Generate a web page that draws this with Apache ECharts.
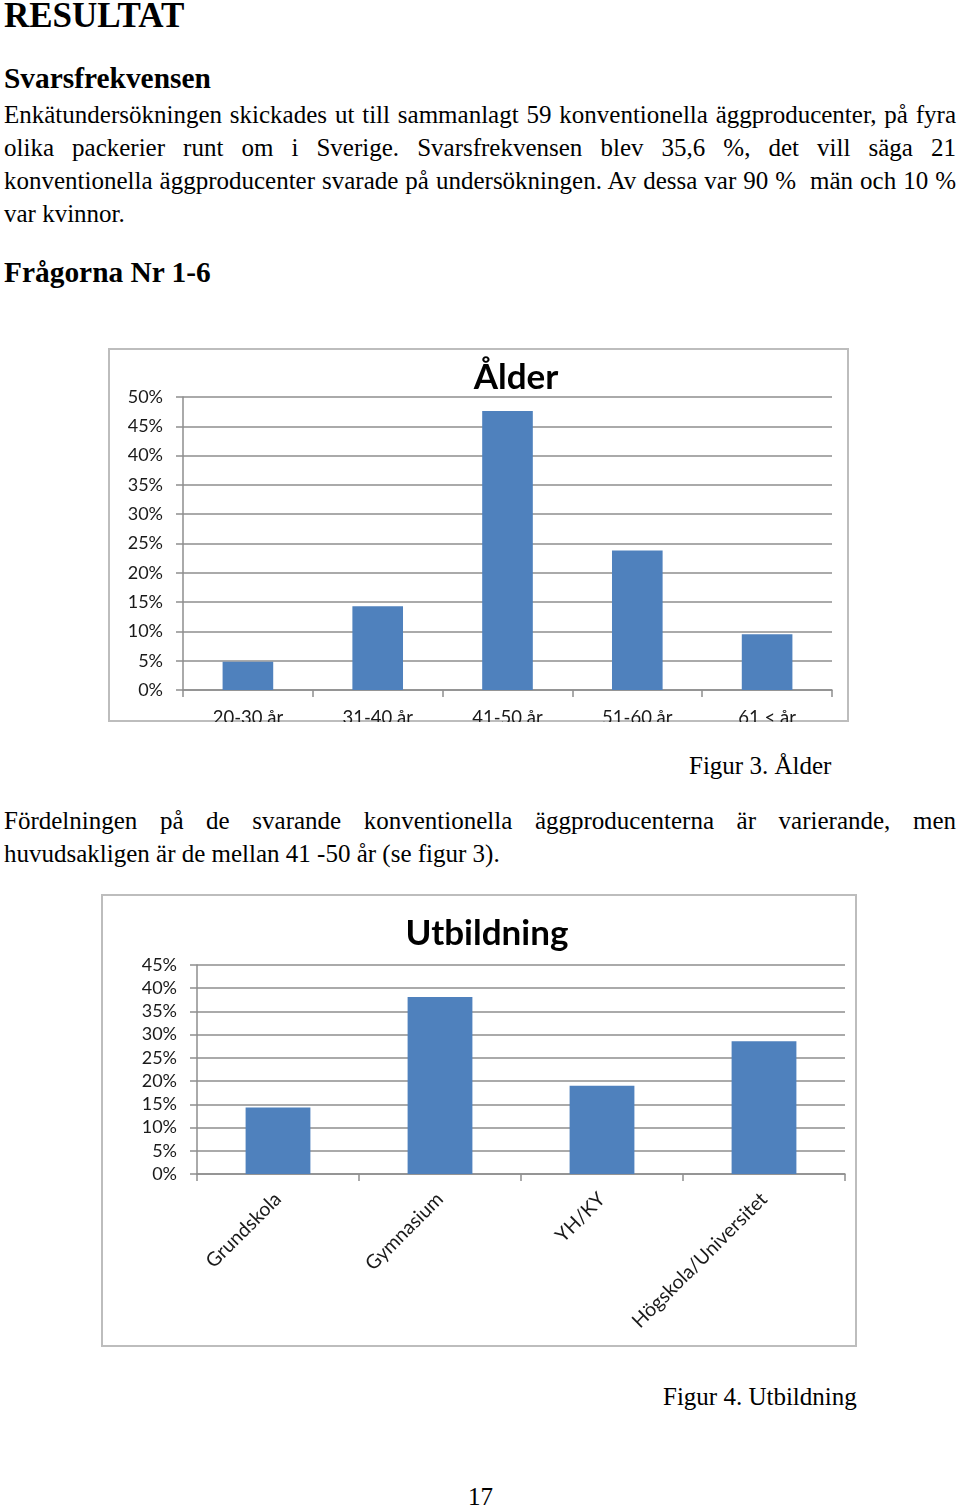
<!DOCTYPE html>
<html>
<head>
<meta charset="utf-8">
<script src="https://cdn.jsdelivr.net/npm/echarts@6/dist/echarts.min.js"></script>
<style>
  html, body { margin:0; padding:0; background:#fff; }
  body { width:960px; height:1509px; position:relative; overflow:hidden; font-family:"Liberation Serif","Times New Roman",serif; color:#000; }
  .t { position:absolute; white-space:nowrap; }
  .h1 { font-weight:bold; font-size:35px; line-height:38px; }
  .h2 { font-weight:bold; font-size:29.4px; line-height:34px; }
  .ln { position:absolute; left:4px; width:952px; font-size:25px; line-height:33px; height:33px; }
  .j { text-align:justify; text-align-last:justify; }
  .chart { position:absolute; }
</style>
</head>
<body>
<div class="t h1" style="left:4px; top:-3px;">RESULTAT</div>
<div class="t h2" style="left:4px; top:61px;">Svarsfrekvensen</div>
<div class="ln j" style="top:98px;">Enkätundersökningen skickades ut till sammanlagt 59 konventionella äggproducenter, på fyra</div>
<div class="ln j" style="top:131px;">olika packerier runt om i Sverige. Svarsfrekvensen blev 35,6 %, det vill säga 21</div>
<div class="ln j" style="top:164px;">konventionella äggproducenter svarade på undersökningen. Av dessa var 90 %&nbsp; män och 10 %</div>
<div class="ln" style="top:197px;">var kvinnor.</div>
<div class="t h2" style="left:4px; top:255px;">Frågorna Nr 1-6</div>

<div id="c1" class="chart" style="left:108px; top:348px; width:741px; height:374px;"></div>

<div class="t" style="left:689px; top:749px; font-size:25px; line-height:33px;">Figur 3. Ålder</div>
<div class="ln j" style="top:804px;">Fördelningen på de svarande konventionella äggproducenterna är varierande, men</div>
<div class="ln" style="top:837px;">huvudsakligen är de mellan 41 -50 år (se figur 3).</div>

<div id="c2" class="chart" style="left:101px; top:894px; width:756px; height:453px;"></div>

<div class="t" style="left:663px; top:1380px; font-size:25px; line-height:33px;">Figur 4. Utbildning</div>
<div class="t" style="left:468px; top:1480px; font-size:25px; line-height:33px;">17</div>

<script>
// ---- data ----
var ageCategories = ['20-30 år', '31-40 år', '41-50 år', '51-60 år', '61 < år'];
var ageValues = [4.8, 14.3, 47.6, 23.8, 9.5];
var eduCategories = ['Grundskola', 'Gymnasium', 'YH/KY', 'Högskola/Universitet'];
var eduValues = [14.3, 38.1, 19.0, 28.6];
var ageTitle = 'Ålder';
var eduTitle = 'Utbildning';

var FONT = 'Lato, "Open Sans", sans-serif';
var BAR = '#4f81bd';
var GRID = '#8e8e8e';
var LABEL = '#1a1a1a';

function makeOption(o) {
  return {
    animation: false,
    title: {
      text: o.title, left: o.titleX, top: o.titleTop, textAlign: 'center',
      textStyle: { fontFamily: FONT, fontWeight: 'bold', fontSize: o.titleSize, color: '#000' }
    },
    graphic: [{
      type: 'rect', silent: true,
      shape: { x: 1, y: 1, width: o.w - 2, height: o.h - 2 },
      style: { fill: null, stroke: '#bdbdbd', lineWidth: 2 }
    }],
    grid: { left: o.grid[0], right: o.grid[1], top: o.grid[2], bottom: o.grid[3], containLabel: false, outerBoundsMode: 'none' },
    xAxis: {
      type: 'category', data: o.cats,
      axisLine: { show: true, lineStyle: { color: GRID, width: 1.5 } },
      axisTick: { show: true, length: 7, inside: false, lineStyle: { color: GRID, width: 1.5 } },
      axisLabel: { interval: 0, rotate: o.rotate, margin: o.xMargin, fontFamily: FONT, fontSize: o.xFont, color: LABEL, hideOverlap: false }
    },
    yAxis: {
      type: 'value', min: 0, max: o.max, interval: 5,
      axisLine: { show: true, lineStyle: { color: GRID, width: 1.5 } },
      axisTick: { show: true, length: 7, inside: false, lineStyle: { color: GRID, width: 1.5 } },
      splitLine: { show: true, lineStyle: { color: GRID, width: 1.5 } },
      axisLabel: { formatter: '{value}%', margin: o.yMargin, fontFamily: FONT, fontSize: o.yFont, color: LABEL }
    },
    series: [{
      type: 'bar', data: o.vals, barWidth: o.barWidth,
      itemStyle: { color: BAR }
    }]
  };
}

var c1 = echarts.init(document.getElementById('c1'), null, { renderer: 'canvas' });
c1.setOption(makeOption({
  w: 741, h: 374, title: ageTitle, titleX: 403, titleTop: 7, titleSize: 35,
  grid: [75, 17, 49, 32], cats: ageCategories, vals: ageValues, max: 50,
  rotate: 0, xMargin: 19, xFont: 18.5, yMargin: 20, yFont: 18, barWidth: '39%'
}));

var c2 = echarts.init(document.getElementById('c2'), null, { renderer: 'canvas' });
c2.setOption(makeOption({
  w: 756, h: 453, title: eduTitle, titleX: 381, titleTop: 17, titleSize: 35,
  grid: [96, 12, 71, 173], cats: eduCategories, vals: eduValues, max: 45,
  rotate: 45, xMargin: 22, xFont: 19.5, yMargin: 20, yFont: 18, barWidth: '40%'
}));
</script>
</body>
</html>
